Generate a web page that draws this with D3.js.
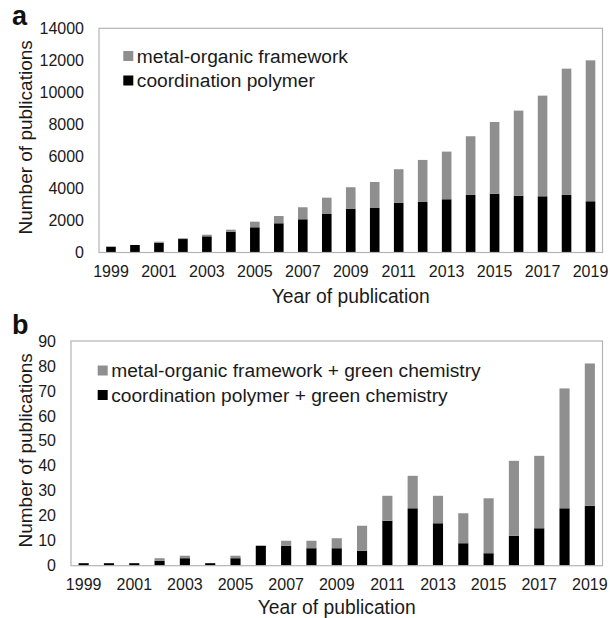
<!DOCTYPE html>
<html>
<head>
<meta charset="utf-8">
<script src="https://cdn.jsdelivr.net/npm/d3@7"></script>
<style>
  html, body { margin: 0; padding: 0; background: #fff; }
  svg { display: block; font-family: "Liberation Sans", Arial, sans-serif; }
</style>
</head>
<body>
<svg id="chart" width="610" height="618"></svg>
<script>
// ---- data ----
const years = [1999, 2000, 2001, 2002, 2003, 2004, 2005, 2006, 2007, 2008, 2009, 2010,
               2011, 2012, 2013, 2014, 2015, 2016, 2017, 2018, 2019];
const tickYears = [1999, 2001, 2003, 2005, 2007, 2009, 2011, 2013, 2015, 2017, 2019];

// Panel a (stacked: coordination polymer at bottom, metal-organic framework on top)
const aCoordination = [360, 470, 610, 840, 1010, 1300, 1575, 1825, 2075, 2405, 2740, 2780,
                       3110, 3155, 3325, 3595, 3675, 3550, 3510, 3595, 3200];
const aMOF = [10, 0, 65, 50, 100, 125, 350, 455, 750, 1020, 1335, 1625,
              2090, 2625, 2975, 3665, 4475, 5310, 6285, 7885, 8800];
const aTicks = [0, 2000, 4000, 6000, 8000, 10000, 12000, 14000];

// Panel b
const bCoordination = [1, 1, 1, 2, 3, 1, 3, 8, 8, 7, 7, 6, 18, 23, 17, 9, 5, 12, 15, 23, 24];
const bMOF = [0, 0, 0, 1, 1, 0, 1, 0, 2, 3, 4, 10, 10, 13, 11, 12, 22, 30, 29, 48, 57];
const bTicks = [0, 10, 20, 30, 40, 50, 60, 70, 80, 90];

const seriesKeys = ["cp", "mof"];
const colors = { cp: "#000000", mof: "#8f8f8f" };

const svg = d3.select("#chart");

function panel(opts) {
  const { left, right, top, bottom, yMax, ticks, cp, mof, legend, letter, letterPos,
          legendX, legendY, yTitleX, xTitleY } = opts;
  const rows = years.map((y, i) => ({ year: y, cp: cp[i], mof: mof[i] }));
  const stacked = d3.stack().keys(seriesKeys)(rows);

  const x = d3.scaleBand().domain(years).range([left, right]).paddingInner(0.6).paddingOuter(0.3);
  const y = d3.scaleLinear().domain([0, yMax]).range([bottom, top]);

  const g = svg.append("g");

  // bars
  g.selectAll("g.series").data(stacked).join("g")
    .attr("fill", d => colors[d.key])
    .selectAll("rect").data(d => d).join("rect")
    .attr("x", d => x(d.data.year))
    .attr("width", x.bandwidth())
    .attr("y", d => y(d[1]))
    .attr("height", d => Math.max(0, y(d[0]) - y(d[1])));

  // frame
  g.append("rect")
    .attr("x", left).attr("y", top)
    .attr("width", right - left).attr("height", bottom - top)
    .attr("fill", "none").attr("stroke", "#b4b4b4").attr("stroke-width", 1.2);

  // y axis
  const ya = g.append("g").attr("transform", `translate(${left},0)`)
    .call(d3.axisLeft(y).tickValues(ticks).tickSize(0).tickPadding(15).tickFormat(d3.format("d")));
  ya.select(".domain").remove();
  ya.selectAll("text").attr("font-size", 16).attr("fill", "#1a1a1a")
    .attr("font-family", "Liberation Sans, Arial, sans-serif");

  // x axis
  const xa = g.append("g").attr("transform", `translate(0,${bottom})`)
    .call(d3.axisBottom(x).tickValues(tickYears).tickSize(0).tickPadding(13));
  xa.select(".domain").remove();
  xa.selectAll("text").attr("font-size", 16).attr("fill", "#1a1a1a")
    .attr("font-family", "Liberation Sans, Arial, sans-serif");

  // axis titles
  g.append("text")
    .attr("transform", `translate(${yTitleX},${(top + bottom) / 2 - 3}) rotate(-90)`)
    .attr("text-anchor", "middle").attr("dy", "0.35em")
    .attr("font-size", 19).attr("fill", "#1a1a1a")
    .text("Number of publications");
  g.append("text")
    .attr("x", (left + right) / 2).attr("y", xTitleY)
    .attr("text-anchor", "middle")
    .attr("font-size", 19.3).attr("fill", "#1a1a1a")
    .text("Year of publication");

  // legend
  const lg = g.append("g");
  legend.forEach((l, i) => {
    const cy = legendY + i * 24.5;
    lg.append("rect").attr("x", legendX).attr("y", cy - 5).attr("width", 10).attr("height", 10)
      .attr("fill", colors[l.key]);
    lg.append("text").attr("x", legendX + 13.5).attr("y", cy).attr("dy", "0.35em")
      .attr("font-size", 19.2).attr("fill", "#1a1a1a").text(l.label);
  });

  // panel letter
  g.append("text").attr("x", letterPos[0]).attr("y", letterPos[1])
    .attr("font-size", 27).attr("font-weight", "bold").attr("fill", "#111")
    .text(letter);
}

panel({
  left: 99, right: 602.5, top: 28.3, bottom: 252.5, yMax: 14000, ticks: aTicks,
  cp: aCoordination, mof: aMOF,
  legend: [{ key: "mof", label: "metal-organic framework" }, { key: "cp", label: "coordination polymer" }],
  letter: "a", letterPos: [12, 25],
  legendX: 123.3, legendY: 56, yTitleX: 25, xTitleY: 303
});

panel({
  left: 71, right: 602.5, top: 341, bottom: 565.7, yMax: 90, ticks: bTicks,
  cp: bCoordination, mof: bMOF,
  legend: [{ key: "mof", label: "metal-organic framework + green chemistry" }, { key: "cp", label: "coordination polymer + green chemistry" }],
  letter: "b", letterPos: [12, 334],
  legendX: 97.7, legendY: 370.5, yTitleX: 25, xTitleY: 614
});
</script>
</body>
</html>
